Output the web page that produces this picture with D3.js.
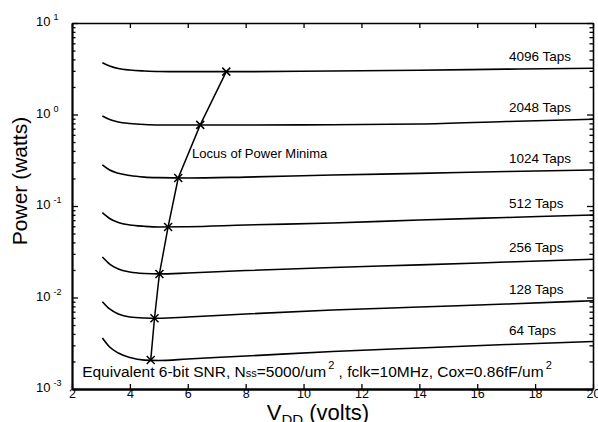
<!DOCTYPE html>
<html>
<head>
<meta charset="utf-8">
<script src="https://cdn.jsdelivr.net/npm/d3@7"></script>
<style>
  body { margin: 0; background: #fff; }
  svg { font-family: "Liberation Sans", Arial, Helvetica, sans-serif; }
</style>
</head>
<body>
<div id="chart"></div>
<script>
// supply voltage grid (volts) shared by all curves
var vdd = [3.05, 3.3, 3.6, 4, 4.5, 5, 6, 8, 11, 14, 17, 20];

// power (watts) per filter length
var p4096 = [3.68, 3.39, 3.18, 3.06, 2.99, 2.95, 2.94, 2.94, 2.99, 3.04, 3.13, 3.20];
var p2048 = [0.963, 0.882, 0.828, 0.797, 0.777, 0.768, 0.768, 0.768, 0.774, 0.787, 0.839, 0.886];
var p1024 = [0.281, 0.247, 0.228, 0.215, 0.207, 0.204, 0.202, 0.207, 0.218, 0.227, 0.238, 0.247];
var p512  = [0.0845, 0.0730, 0.0660, 0.0620, 0.0600, 0.0590, 0.0594, 0.0620, 0.0652, 0.0703, 0.0749, 0.0797];
var p256  = [0.0277, 0.0232, 0.0205, 0.0190, 0.0183, 0.0181, 0.0185, 0.0197, 0.0213, 0.0227, 0.0244, 0.0262];
var p128  = [0.00900, 0.00749, 0.00660, 0.00612, 0.00597, 0.00593, 0.00612, 0.00660, 0.00730, 0.00787, 0.00849, 0.00923];
var p64   = [0.00361, 0.00288, 0.00247, 0.00221, 0.00207, 0.00205, 0.00213, 0.00229, 0.00257, 0.00281, 0.00306, 0.00330];

var tapNames = ["4096 Taps", "2048 Taps", "1024 Taps", "512 Taps", "256 Taps", "128 Taps", "64 Taps"];
var tapSeries = [p4096, p2048, p1024, p512, p256, p128, p64];

// locus of the power minima (one point per curve, 64 -> 4096 taps)
var locusV = [4.72, 4.85, 5.02, 5.32, 5.67, 6.43, 7.33];
var locusP = [0.00207, 0.00593, 0.0181, 0.059, 0.202, 0.77, 2.94];

var xTicks = [2, 4, 6, 8, 10, 12, 14, 16, 18, 20];
var yExps = [1, 0, -1, -2, -3];

var size = {width: 598, height: 422, margin: {top: 23, right: 5, bottom: 33, left: 72}};

var svg = d3.select("#chart").append("svg")
    .attr("width", size.width)
    .attr("height", size.height);

var x = d3.scaleLinear()
    .domain([2, 20])
    .range([size.margin.left, size.width - size.margin.right]);

var y = d3.scaleLog()
    .domain([1e-3, 10])
    .range([size.height - size.margin.bottom, size.margin.top]);

var x0 = x.range()[0], x1 = x.range()[1], y0 = y.range()[0], y1 = y.range()[1];

// minor + major log ticks
var yTickVals = [];
for (var e = -3; e < 1; e++) {
  for (var m = 1; m < 10; m++) yTickVals.push(m * Math.pow(10, e));
}
yTickVals.push(10);
function isMajor(v) { return Math.abs(Math.log10(v) - Math.round(Math.log10(v))) < 1e-9; }

// left axis
var yl = svg.append("g").attr("transform", "translate(" + x0 + ",0)")
    .call(d3.axisLeft(y).tickValues(yTickVals).tickSizeOuter(0).tickFormat(""));
yl.selectAll(".tick line").attr("x2", function(d) { return isMajor(d) ? 6 : 3.5; });
// right axis
var yr = svg.append("g").attr("transform", "translate(" + x1 + ",0)")
    .call(d3.axisRight(y).tickValues(yTickVals).tickSizeOuter(0).tickFormat(""));
yr.selectAll(".tick line").attr("x2", function(d) { return isMajor(d) ? -6 : -3.5; });
// bottom axis
var xb = svg.append("g").attr("transform", "translate(0," + y0 + ")")
    .call(d3.axisBottom(x).tickValues(xTicks).tickSizeInner(-5).tickSizeOuter(0).tickPadding(2));
// top axis
var xt = svg.append("g").attr("transform", "translate(0," + y1 + ")")
    .call(d3.axisTop(x).tickValues(xTicks).tickSizeInner(-5).tickSizeOuter(0).tickFormat(""));

svg.selectAll(".domain").attr("stroke", "#000").attr("stroke-width", 1.6);
svg.selectAll(".tick line").attr("stroke", "#000").attr("stroke-width", 1.3);
xb.select(".domain").attr("stroke-width", 2.4);
yl.select(".domain").attr("stroke-width", 2.2);

xb.selectAll(".tick text")
    .attr("font-size", 12.5)
    .attr("fill", "#000")
    .attr("dy", "0.55em");

// y tick labels 10^n
var ylab = svg.append("g").selectAll("text")
    .data(yExps)
    .enter().append("text")
    .attr("x", x0 - 36)
    .attr("y", function(d) { return y(Math.pow(10, d)) + 3; })
    .attr("font-size", 13)
    .attr("fill", "#000");
ylab.append("tspan").text("10");
ylab.append("tspan")
    .attr("dx", 3)
    .attr("dy", -6)
    .attr("font-size", 9)
    .text(function(d) { return d; });

// curves
var line = d3.line()
    .x(function(d) { return x(d[0]); })
    .y(function(d) { return y(d[1]); })
    .curve(d3.curveMonotoneX);

svg.append("g").selectAll("path")
    .data(tapSeries)
    .enter().append("path")
    .attr("d", function(s) { return line(s.map(function(p, i) { return [vdd[i], p]; })); })
    .attr("fill", "none")
    .attr("stroke", "#000")
    .attr("stroke-width", 1.6);

// tap labels
svg.append("g").selectAll("text")
    .data(tapSeries)
    .enter().append("text")
    .attr("x", x(17.1))
    .attr("y", function(s) { return y(s[s.length - 1]) - 7; })
    .attr("font-size", 13.5)
    .attr("fill", "#000")
    .text(function(s, i) { return tapNames[i]; });

// locus
var locus = locusV.map(function(v, i) { return [v, locusP[i]]; });
svg.append("path")
    .attr("d", d3.line().x(function(d) { return x(d[0]); }).y(function(d) { return y(d[1]); })(locus))
    .attr("fill", "none")
    .attr("stroke", "#000")
    .attr("stroke-width", 1.5);

svg.append("g").selectAll("path")
    .data(locus)
    .enter().append("path")
    .attr("transform", function(d) { return "translate(" + x(d[0]) + "," + y(d[1]) + ")"; })
    .attr("d", "M-4,-4L4,4M-4,4L4,-4")
    .attr("stroke", "#000")
    .attr("stroke-width", 1.5);

svg.append("text")
    .attr("x", x(6.15))
    .attr("y", y(0.335))
    .attr("font-size", 13)
    .attr("fill", "#000")
    .text("Locus of Power Minima");

// condition note
var note = svg.append("text")
    .attr("x", x(2.35))
    .attr("y", y(0.00135))
    .attr("font-size", 15.5)
    .attr("fill", "#000");
note.append("tspan").text("Equivalent 6-bit SNR, N");
note.append("tspan").attr("font-size", 11).text("ss");
note.append("tspan").text("=5000/um");
note.append("tspan").attr("font-size", 11).attr("dy", -8).attr("dx", 2).text("2");
note.append("tspan").attr("dy", 8).text(" , fclk=10MHz, Cox=0.86fF/um");
note.append("tspan").attr("font-size", 11).attr("dy", -8).attr("dx", 2).text("2");

// axis titles
svg.append("text")
    .attr("transform", "translate(27,181) rotate(-90)")
    .attr("text-anchor", "middle")
    .attr("font-size", 21)
    .attr("fill", "#000")
    .text("Power (watts)");

var xt2 = svg.append("text")
    .attr("x", 318)
    .attr("y", 420)
    .attr("text-anchor", "middle")
    .attr("font-size", 22)
    .attr("fill", "#000");
xt2.append("tspan").text("V");
xt2.append("tspan").attr("font-size", 15).attr("dy", 5).text("DD");
xt2.append("tspan").attr("dy", -5).text(" (volts)");
</script>
</body>
</html>
